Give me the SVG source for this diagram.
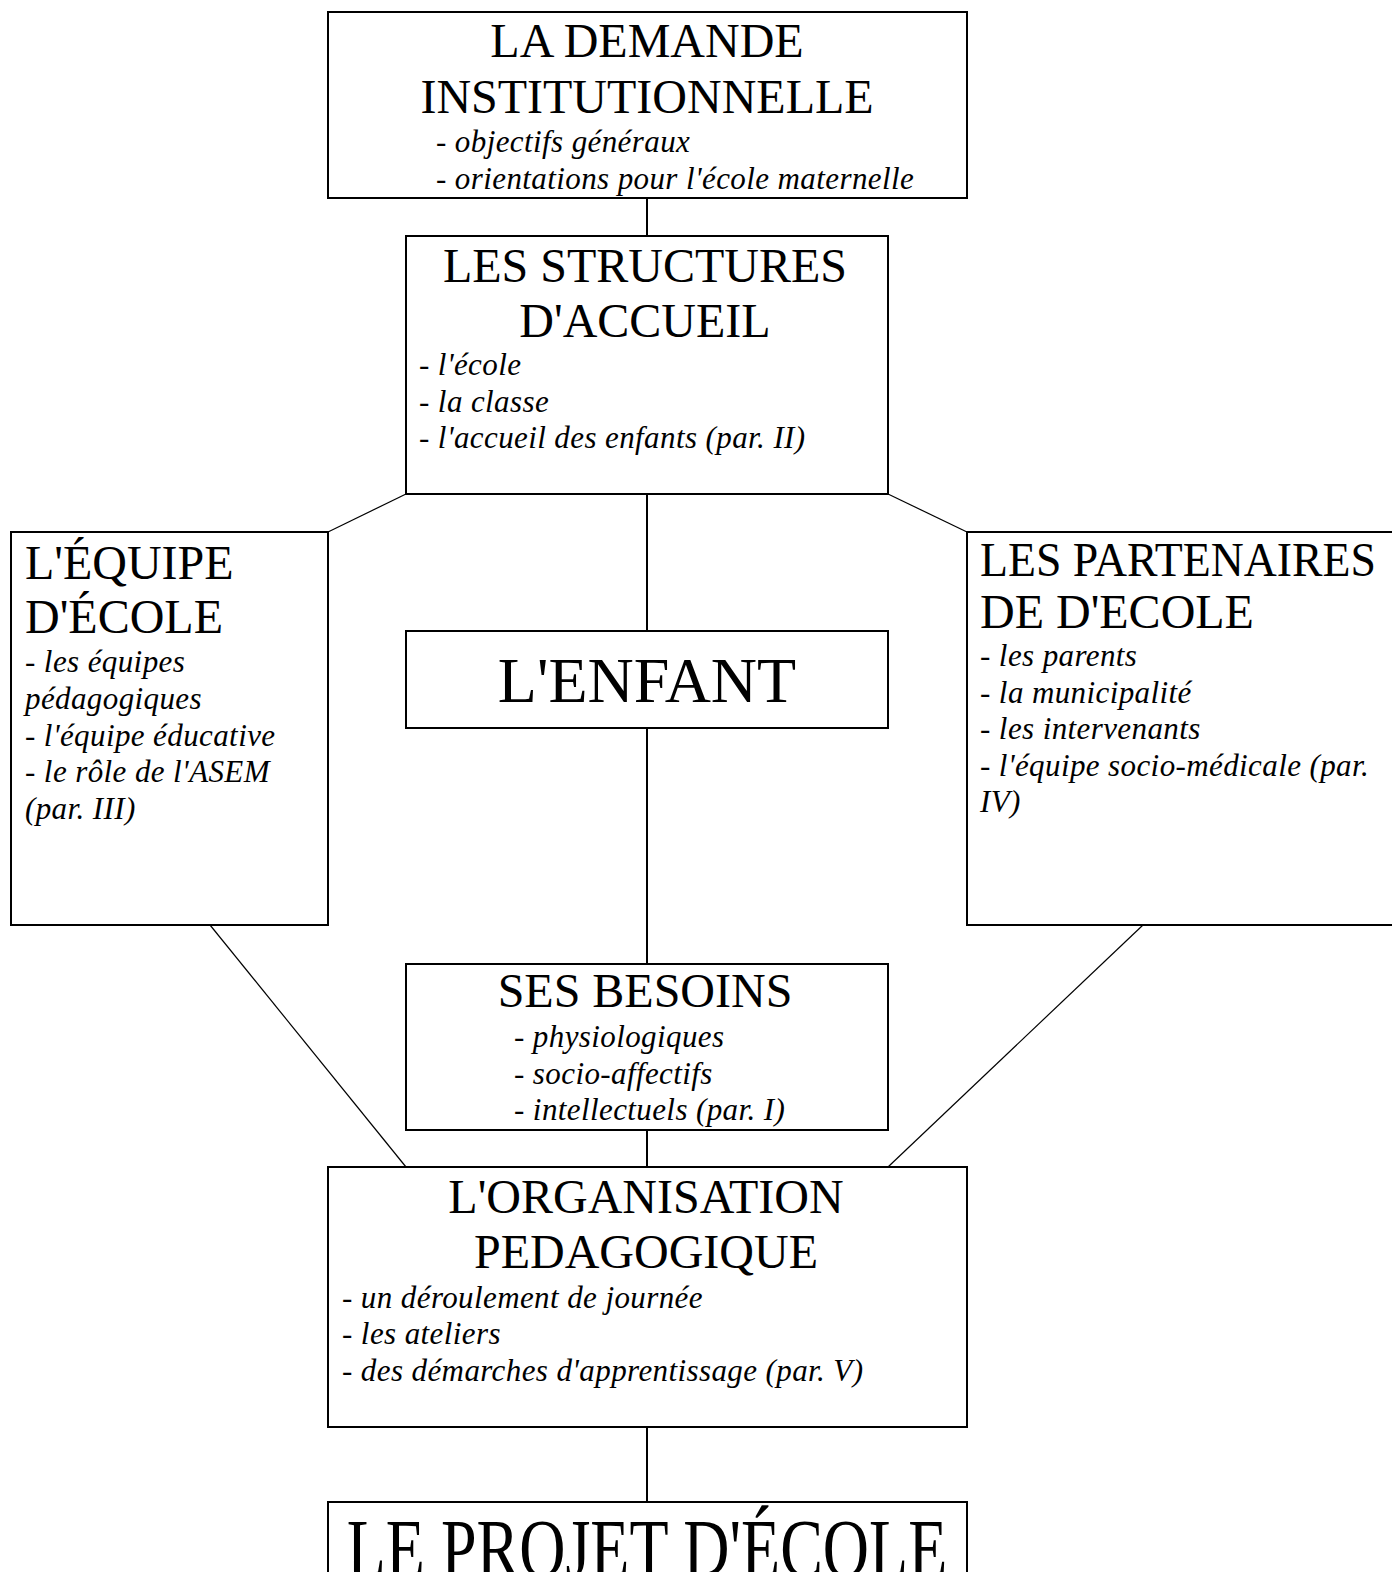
<svg xmlns="http://www.w3.org/2000/svg" width="1392" height="1572" viewBox="0 0 1392 1572">
<style>
.box{fill:#fff;stroke:#000;stroke-width:2}
.t{font-family:"Liberation Serif","Times New Roman",serif;font-size:48px;fill:#000}
.c{text-anchor:middle}
.big{font-size:64px}
.i{font-family:"Liberation Serif","Times New Roman",serif;font-size:31px;letter-spacing:0.4px;font-style:italic;fill:#000}
.v{stroke:#000;stroke-width:2;fill:none}
.d{stroke:#000;stroke-width:1.2;fill:none}
</style>
<rect width="1392" height="1572" fill="#fff"/>
<g id="connectors">
<line class="v" x1="647" y1="198" x2="647" y2="236"/>
<line class="v" x1="647" y1="494" x2="647" y2="631"/>
<line class="v" x1="647" y1="728" x2="647" y2="964"/>
<line class="v" x1="647" y1="1130" x2="647" y2="1167"/>
<line class="v" x1="647" y1="1427" x2="647" y2="1502"/>
<line class="d" x1="406" y1="494" x2="328" y2="532"/>
<line class="d" x1="888" y1="494" x2="967" y2="532"/>
<line class="d" x1="210" y1="925" x2="406" y2="1167"/>
<line class="d" x1="1143" y1="925" x2="888" y2="1167"/>
</g>
<g id="demande">
<rect class="box" x="328" y="12" width="639" height="186"/>
<text class="t c" x="647" y="57">LA DEMANDE</text>
<text class="t c" x="647" y="113">INSTITUTIONNELLE</text>
<text class="i" x="436" y="152">- objectifs généraux</text>
<text class="i" x="436" y="189">- orientations pour l'école maternelle</text>
</g>
<g id="structures">
<rect class="box" x="406" y="236" width="482" height="258"/>
<text class="t c" x="645" y="282">LES STRUCTURES</text>
<text class="t c" x="645" y="337">D'ACCUEIL</text>
<text class="i" x="419" y="375">- l'école</text>
<text class="i" x="419" y="412">- la classe</text>
<text class="i" x="419" y="448">- l'accueil des enfants (par. II)</text>
</g>
<g id="equipe">
<rect class="box" x="11" y="532" width="317" height="393"/>
<text class="t" x="25" y="579">L'ÉQUIPE</text>
<text class="t" x="25" y="633">D'ÉCOLE</text>
<text class="i" x="25" y="672">- les équipes</text>
<text class="i" x="25" y="709">pédagogiques</text>
<text class="i" x="25" y="746">- l'équipe éducative</text>
<text class="i" x="25" y="782">- le rôle de l'ASEM</text>
<text class="i" x="25" y="819">(par. III)</text>
</g>
<g id="partenaires">
<rect class="box" x="967" y="532" width="440" height="393"/>
<text class="t" x="980" y="576" textLength="396" lengthAdjust="spacingAndGlyphs">LES PARTENAIRES</text>
<text class="t" x="980" y="628">DE D'ECOLE</text>
<text class="i" x="980" y="666">- les parents</text>
<text class="i" x="980" y="703">- la municipalité</text>
<text class="i" x="980" y="739">- les intervenants</text>
<text class="i" x="980" y="776">- l'équipe socio-médicale (par.</text>
<text class="i" x="980" y="812">IV)</text>
</g>
<g id="enfant">
<rect class="box" x="406" y="631" width="482" height="97"/>
<text class="t c big" x="647" y="702">L'ENFANT</text>
</g>
<g id="besoins">
<rect class="box" x="406" y="964" width="482" height="166"/>
<text class="t c" x="645" y="1007">SES BESOINS</text>
<text class="i" x="514" y="1047">- physiologiques</text>
<text class="i" x="514" y="1084">- socio-affectifs</text>
<text class="i" x="514" y="1120">- intellectuels (par. I)</text>
</g>
<g id="organisation">
<rect class="box" x="328" y="1167" width="639" height="260"/>
<text class="t c" x="646" y="1213">L'ORGANISATION</text>
<text class="t c" x="646" y="1268">PEDAGOGIQUE</text>
<text class="i" x="342" y="1308">- un déroulement de journée</text>
<text class="i" x="342" y="1344">- les ateliers</text>
<text class="i" x="342" y="1381">- des démarches d'apprentissage (par. V)</text>
</g>
<g id="projet">
<rect class="box" x="328" y="1502" width="639" height="100"/>
<text class="t c big" transform="translate(647 1576) scale(1 1.3)" x="0" y="0">LE PROJET D'ÉCOLE</text>
</g>
</svg>
